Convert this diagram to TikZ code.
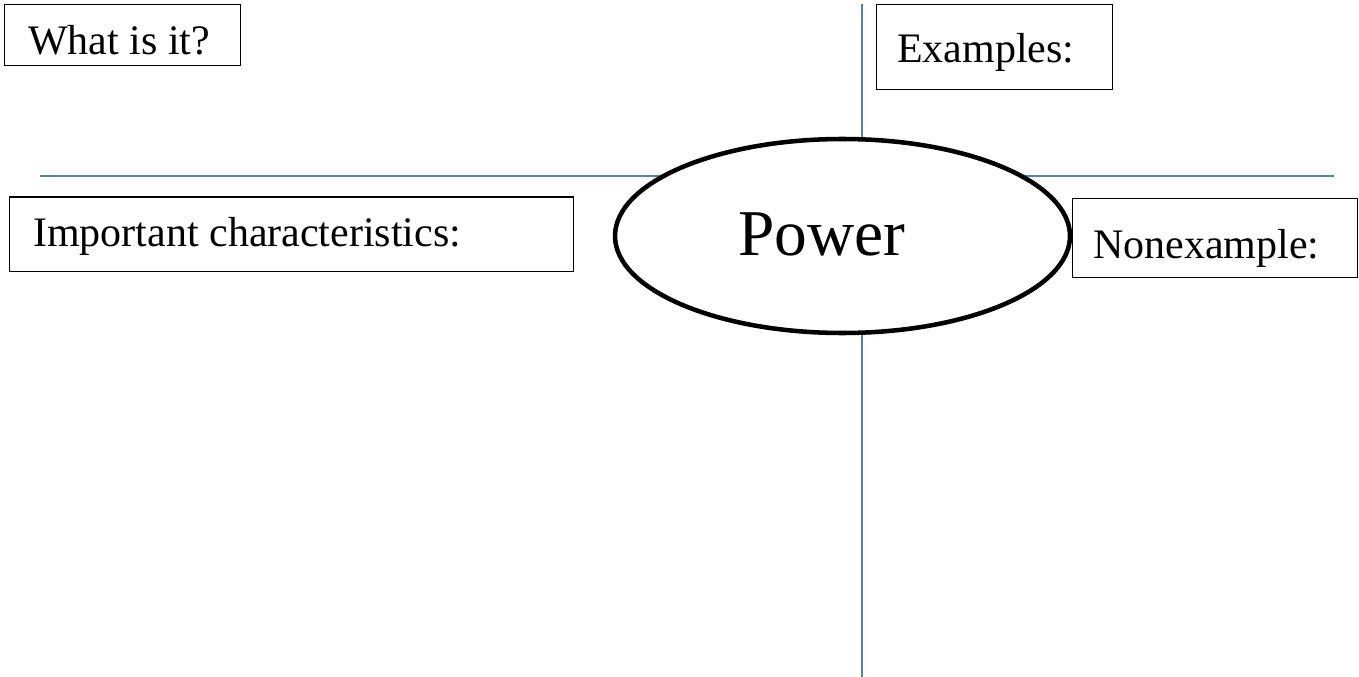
\documentclass[tikz,border=0pt]{standalone}
\usepackage{fontspec}
\setmainfont{Liberation Serif}
\definecolor{axisblue}{HTML}{4F81BD}
\begin{document}
\begin{tikzpicture}[x=0.75pt,y=-0.75pt,
  box/.style={draw=black,line width=1.1pt,fill=white,inner sep=0pt,anchor=north west},
  lbl/.style={inner sep=0pt,anchor=base west,font=\fontsize{31.5}{38}\selectfont},
  axis/.style={draw=axisblue,line width=1.2pt},
  bubble/.style={draw=black,line width=3.4pt,fill=white}]
\useasboundingbox (0,0) rectangle (1359,677);
% axes
\coordinate (vtop) at (862,4);
\coordinate (vbot) at (862,677);
\coordinate (hl) at (40,176);
\coordinate (hr) at (1334,176);
\draw[axis] (vtop) -- (vbot);
\draw[axis] (hl) -- (hr);
% central ellipse
\draw[bubble] (842.5,236) ellipse [x radius=227.5, y radius=97];
\node[inner sep=0pt,anchor=base west,font=\fontsize{49}{58}\selectfont] (power) at (738,256) {Power};
% boxes
\node[box,minimum width=236*0.75pt,minimum height=61*0.75pt] (whatbox) at (4,4) {};
\node[lbl] (what) at (28,55) {What is it?};
\node[box,minimum width=236*0.75pt,minimum height=85*0.75pt] (exbox) at (876,4) {};
\node[lbl] (ex) at (897,63) {Examples:};
\node[box,minimum width=564*0.75pt,minimum height=74*0.75pt] (impbox) at (9,196.5) {};
\node[lbl] (imp) at (33,247) {Important characteristics:};
\node[box,minimum width=285*0.75pt,minimum height=79*0.75pt] (nonbox) at (1072,198) {};
\node[lbl] (non) at (1093,258) {Nonexample:};
\end{tikzpicture}
\end{document}
